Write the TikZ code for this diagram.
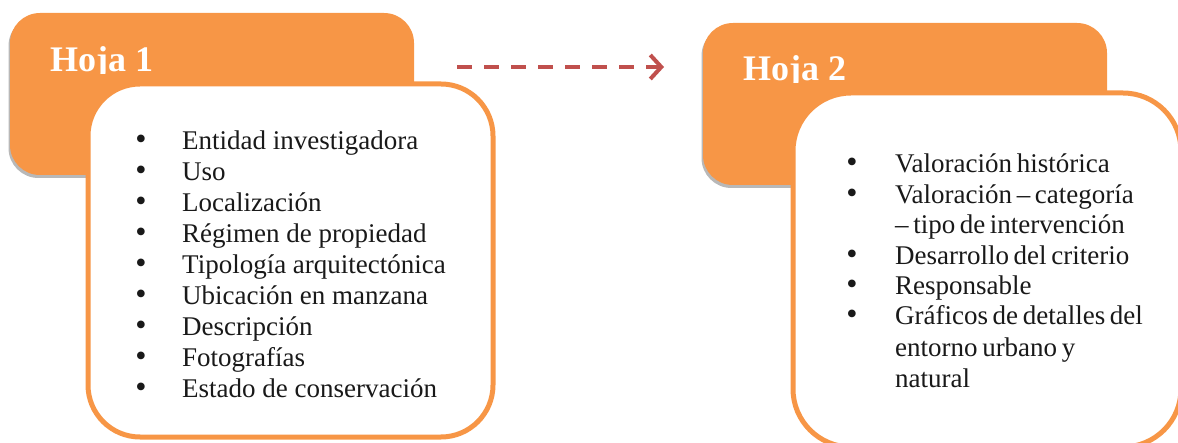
\documentclass[tikz,border=0pt]{standalone}
\usepackage{fontspec}
\setmainfont{Liberation Serif}
\usetikzlibrary{arrows.meta}
\definecolor{accent}{HTML}{F79646}
\definecolor{linkred}{HTML}{C0504D}
\definecolor{shade}{HTML}{A0A0A0}
\begin{document}
\begin{tikzpicture}[x=1pt,y=-1pt,
  headbox/.style={fill=accent,draw=none,rounded corners=30pt},
  headshadow/.style={fill=shade,draw=none,rounded corners=30pt,opacity=0.75},
  listbox/.style={fill=white,draw=accent,line width=5pt,rounded corners=52pt},
  title/.style={anchor=base west,inner sep=0pt,text=white,font=\fontsize{36}{40}\selectfont\bfseries},
  item/.style={anchor=base west,inner sep=0pt,text=black!90,font=\fontsize{27}{30}\selectfont},
  item2/.style={item,font={\fontsize{27}{30}\selectfont\spaceskip=0.17em\relax}},
  dot/.style={anchor=base,inner sep=0pt,text=black!90,font=\fontsize{32}{30}\selectfont},
  link/.style={draw=linkred,line width=4pt,dash pattern=on 15pt off 12pt,
    -{Straight Barb[length=11pt,width=24pt,line width=4pt]}}]
\useasboundingbox (0,0) rectangle (1178,443);
\begin{scope}
\clip (0,0) rectangle (1178,443);

% first sheet: orange header card with its list card on top
\fill[headshadow] (8.5,16) rectangle (412.5,178);
\fill[headbox] (10,13) rectangle (414,175);
\begin{scope}
  \clip (0,0) rectangle (414,74);
  \node[title] (h1) at (50,72) {Hoja 1};
\end{scope}
\draw[listbox] (88,84) rectangle (493,437);
\foreach \t [count=\i] in {Entidad investigadora,Uso,Localización,
  Régimen de propiedad,Tipología arquitectónica,Ubicación en manzana,
  Descripción,Fotografías,Estado de conservación}{
  \node[dot] (b1-\i) at (141,{150+30.9*(\i-1)}) {•};
  \node[item] (t1-\i) at (182,{150+30.9*(\i-1)}) {\t};
}

% second sheet
\fill[headshadow] (701.5,26) rectangle (1105.5,188);
\fill[headbox] (703,23) rectangle (1107,185);
\begin{scope}
  \clip (690,0) rectangle (1107,83);
  \node[title] (h2) at (743,81) {Hoja 2};
\end{scope}
\draw[listbox,rounded corners=58pt] (793,93) rectangle (1181,447);
\foreach \y [count=\i] in {173,204,265,295,325}{
  \node[dot] (b2-\i) at (852,\y) {•};
}
\node[item2] (t2-1) at (895,173) {Valoración histórica};
\node[item2] (t2-2) at (895,204) {Valoración – categoría};
\node[item2] (t2-3) at (895,234) {– tipo de intervención};
\node[item2] (t2-4) at (895,265) {Desarrollo del criterio};
\node[item2] (t2-5) at (895,295) {Responsable};
\node[item2] (t2-6) at (895,325) {Gráficos de detalles del};
\node[item2] (t2-7) at (895,357) {entorno urbano y};
\node[item2] (t2-8) at (895,388) {natural};

% dashed link from the first sheet to the second
\coordinate (from) at (457,67);
\coordinate (to) at (664,67);
\draw[link] (from) -- (to);
\end{scope}
\end{tikzpicture}
\end{document}
